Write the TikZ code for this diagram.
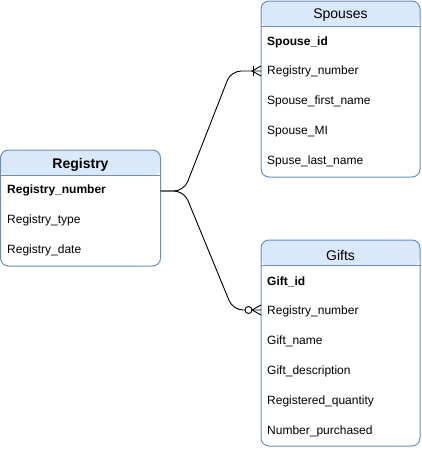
\documentclass[tikz,border=0pt]{standalone}
\usepackage{fontspec}
\setmainfont{Liberation Sans}
\definecolor{hdr}{HTML}{DAE8FC}
\definecolor{bd}{HTML}{6C8EBF}
\begin{document}
\begin{tikzpicture}[x=1pt,y=-1pt,
  tbl/.style={draw=bd, fill=white, rounded corners=8pt, line width=1pt, inner sep=0pt,
    path picture={\fill[hdr] (path picture bounding box.north west) rectangle ([yshift=-26pt]path picture bounding box.north east);}},
  hline/.style={draw=bd, line width=1pt},
  ttl/.style={font=\fontsize{14}{16}\selectfont, inner sep=0pt, yshift=-1pt},
  row/.style={anchor=west, font=\fontsize{12}{14}\selectfont, inner sep=0pt, yshift=-1.5pt},
  key/.style={row, font=\fontsize{12}{14}\selectfont\bfseries},
  conn/.style={draw=black, line width=0.9pt},
  ]
\useasboundingbox (0,0) rectangle (421,450);
% Registry
\node[tbl, minimum width=160pt, minimum height=116pt] (reg) at (80.5,208) {};
\draw[hline] ([yshift=-26pt]reg.north west) -- ([yshift=-26pt]reg.north east);
\node[ttl, font=\fontsize{14}{16}\selectfont\bfseries] (regt) at (80.5,163.5) {Registry};
\node[key] (r1) at (7,189) {Registry\_number};
\node[row] (r2) at (7,219) {Registry\_type};
\node[row] (r3) at (7,249) {Registry\_date};
% Spouses
\node[tbl, minimum width=159pt, minimum height=176pt] (sp) at (340.5,89) {};
\draw[hline] ([yshift=-26pt]sp.north west) -- ([yshift=-26pt]sp.north east);
\node[ttl] (spt) at (340.5,14.5) {Spouses};
\node[key] (s1) at (267,41) {Spouse\_id};
\node[row] (s2) at (267,70) {Registry\_number};
\node[row] (s3) at (267,100) {Spouse\_first\_name};
\node[row] (s4) at (267,130) {Spouse\_MI};
\node[row] (s5) at (267,160) {Spuse\_last\_name};
% Gifts
\node[tbl, minimum width=159pt, minimum height=206pt] (gf) at (340.5,343) {};
\draw[hline] ([yshift=-26pt]gf.north west) -- ([yshift=-26pt]gf.north east);
\node[ttl] (gft) at (340.5,254) {Gifts};
\node[key] (g1) at (267,280) {Gift\_id};
\node[row] (g2) at (267,310) {Registry\_number};
\node[row] (g3) at (267,340) {Gift\_name};
\node[row] (g4) at (267,370) {Gift\_description};
\node[row] (g5) at (267,400) {Registered\_quantity};
\node[row] (g6) at (267,430) {Number\_purchased};
% connectors
\coordinate (src) at (160.5,191);
\coordinate (se) at (261,71);
\coordinate (ge) at (261,310);
\draw[conn, rounded corners=10pt] (src) -- (184,191) -- (231,71) -- (se);
\draw[conn, rounded corners=10pt] (src) -- (184,191) -- (233,310) -- (ge);
% one-to-many marker
\draw[conn] ([xshift=-8pt]se) ++(0,-5) -- ++(0,10);
\draw[conn] (se) ++(0,-5) -- ++(-9,5) -- ++(9,5);
% zero-to-many marker
\draw[conn] (ge) ++(0,-5) -- ++(-9,5) -- ++(9,5);
\draw[conn, fill=white] ([xshift=-12.5pt]ge) circle (3.5pt);
\end{tikzpicture}
\end{document}
